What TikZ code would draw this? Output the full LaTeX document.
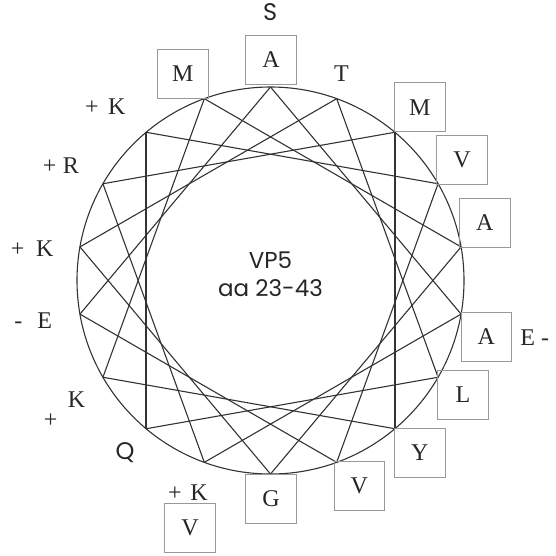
\documentclass[tikz,border=0pt]{standalone}
\usepackage{fontspec}
\setmainfont{Liberation Serif}
\newfontfamily\gothic{Poppins}
\begin{document}
\begin{tikzpicture}[x=1pt,y=-1pt,
  wheel/.style={draw=black!80,line width=1.1pt},
  resbox/.style={draw=black!40,line width=0.9pt,minimum width=50.5pt,minimum height=49pt,inner sep=0pt,font=\fontsize{24}{24}\selectfont,text=black!85},
  lbl/.style={inner sep=0pt,font=\fontsize{24}{24}\selectfont,text=black!85},
  glbl/.style={inner sep=0pt,font=\gothic\fontsize{24}{24}\selectfont,text=black!85}]
\useasboundingbox (0,0) rectangle (556,555);
% points on the wheel
\foreach \k in {0,...,17}
  \coordinate (p\k) at ({270.5+193.5*cos(90-20*\k)},{280.5-193.5*sin(90-20*\k)});
\draw[wheel] (270.5,280.5) circle[radius=193.5pt];
\foreach \k in {0,...,17}{
  \pgfmathtruncatemacro{\j}{mod(\k+5,18)}
  \draw[wheel] (p\k) -- (p\j);
}
\draw[wheel,line width=1.5pt] (p2) -- (p7);
\draw[wheel,line width=1.5pt] (p11) -- (p16);
% centre text
\node[inner sep=0pt,align=center,font=\gothic\fontsize{23}{28}\selectfont,text=black!85] (title) at (270.5,274) {VP5\\aa 23-43};
% boxed residues
\node[resbox] (a1) at (271,60) {A};
\node[resbox] (m8) at (182.8,74.1) {M};
\node[resbox] (m5) at (419.7,107.3) {M};
\node[resbox] (v16) at (462,159.6) {V};
\node[resbox] (a9) at (484.7,223) {A};
\node[resbox] (a2) at (486.4,336.5) {A};
\node[resbox] (l13) at (463,394.5) {L};
\node[resbox] (y6) at (419.8,452.7) {Y};
\node[resbox] (v17) at (359.2,485.5) {V};
\node[resbox] (g10) at (271,498.8) {G};
\node[resbox] (v21) at (190,528) {V};
% other residues
\node[glbl] (s19) at (270.2,12.5) {S};
\node[lbl] (t12) at (341.5,74) {T};
\node[lbl] (e20) at (534.7,337.5) {E -};
\node[lbl] (k3) at (187.9,492.3) {+\hspace{8.5pt}K};
\node[glbl] (q14) at (125,452.7) {Q};
\node[lbl] (k7) at (76.5,400) {K};
\node[lbl] (k7s) at (50.7,420.5) {+};
\node[lbl] (e18) at (33.3,321) {-\hspace{15pt}E};
\node[lbl] (k11) at (32.2,249) {+\hspace{11.8pt}K};
\node[lbl] (r4) at (60.9,166) {+\hspace{6.5pt}R};
\node[lbl] (k15) at (105.4,106.5) {+\hspace{9.5pt}K};
\end{tikzpicture}
\end{document}
